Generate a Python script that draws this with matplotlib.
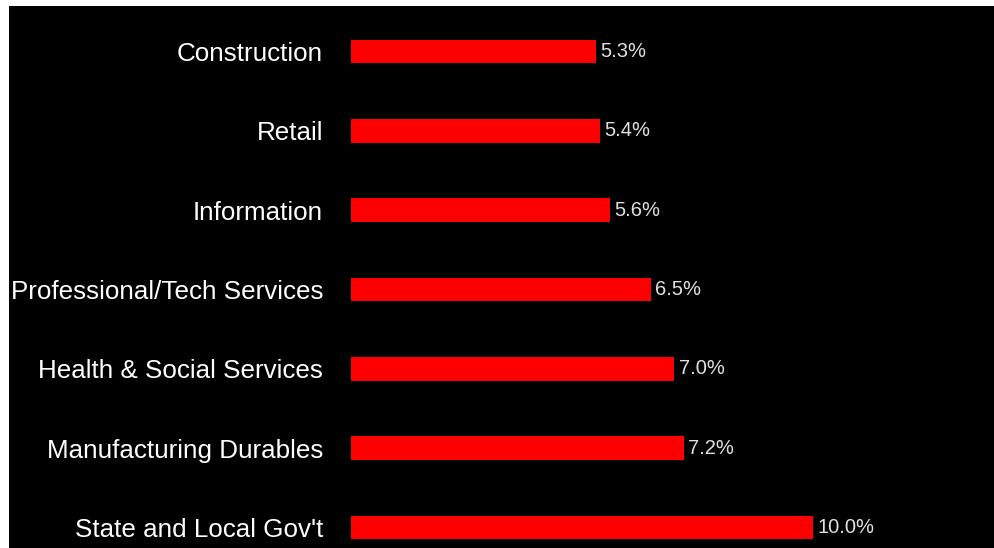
import matplotlib.pyplot as plt
from matplotlib.patches import Rectangle

# 各行业数据（自下而上）
industries = ["State and Local Gov't", "Manufacturing Durables", "Health & Social Services",
              "Professional/Tech Services", "Information", "Retail", "Construction"]
rates = [10.0, 7.2, 7.0, 6.5, 5.6, 5.4, 5.3]
rate_labels = ["10.0%", "7.2%", "7.0%", "6.5%", "5.6%", "5.4%", "5.3%"]

plt.rcParams['font.family'] = ['Liberation Sans', 'DejaVu Sans']

W, H = 994, 548
fig = plt.figure(figsize=(W / 100, H / 100), dpi=100, facecolor='white')

# 黑色底板，左上留白边
fig.patches.append(Rectangle((9 / W, 0), 1 - 9 / W, (H - 6) / H,
                             transform=fig.transFigure, facecolor='black',
                             edgecolor='none', zorder=-10))

x0 = 351
ax = fig.add_axes([x0 / W, 0, 1 - x0 / W, (H - 6) / H])
ax.set_facecolor('none')
ax.set_zorder(5)

px_per_unit = 46.2
ax.set_xlim(0, (W - x0) / px_per_unit)
ax.set_ylim(-0.258, 6.574)

pos = list(range(len(industries)))
bars = ax.barh(pos, rates, height=0.30, color='#ff0000', edgecolor='none')
ax.bar_label(bars, labels=rate_labels, padding=3, color='#e0e0e0', fontsize=14.5)

ax.set_yticks(pos)
ax.set_yticklabels(industries, fontsize=18.7, color='white')
ax.tick_params(axis='y', length=0, pad=20)
ax.set_xticks([])
for s in ax.spines.values():
    s.set_visible(False)

fig.savefig('out.png', dpi=100, facecolor='white')
